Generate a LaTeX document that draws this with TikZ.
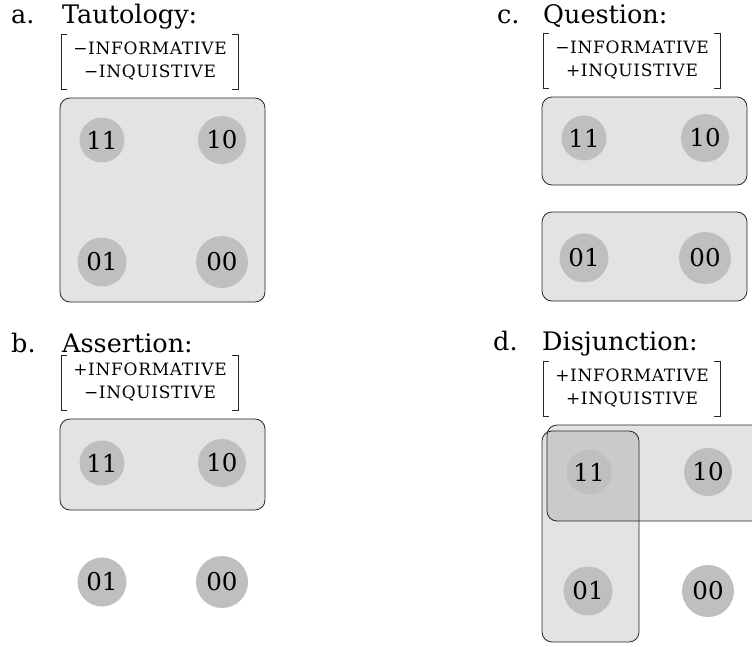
\documentclass[tikz,border=0pt]{standalone}
\usepackage{fontspec}
\setmainfont{DejaVu Serif}
\usetikzlibrary{fit}
\begin{document}
\begin{tikzpicture}[x=1pt,y=-1pt,
  heading/.style={anchor=base west,inner sep=0pt,font=\fontsize{25.5}{30}\selectfont},
  feature/.style={inner sep=0pt,font=\fontsize{17}{20}\selectfont\addfontfeature{LetterSpace=4}},
  bracket/.style={line width=0.9pt,black!85},
  cell/.style={draw=black!85,line width=0.8pt,fill=black,fill opacity=0.11,draw opacity=1,
               rounded corners=10pt,inner sep=0pt},
  world/.style={circle,fill=black!25,inner sep=0pt,text=black,
                font=\fontsize{24.5}{28}\selectfont},
  w11/.style={world,minimum size=45pt},
  w10/.style={world,minimum size=48pt},
  w01/.style={world,minimum size=49pt},
  w00/.style={world,minimum size=52pt}]
\useasboundingbox (0,0) rectangle (752,646);
\clip (0,0) rectangle (752,646);

% feature matrix: two rows between square brackets
\newcommand{\featmat}[4]{%
  \node[feature] at (#1+89,#2+14) {#3INFORMATIVE};
  \node[feature] at (#1+89,#2+39) {#4INQUISTIVE\vphantom{Q}};
  \draw[bracket] (#1+6,#2) -- (#1,#2) -- (#1,#2+55) -- (#1+6,#2+55);
  \draw[bracket] (#1+171,#2) -- (#1+177,#2) -- (#1+177,#2+55) -- (#1+171,#2+55);}

% a. Tautology
\node[heading] (la) at (11,23) {a.};
\node[heading] (ta) at (62,23) {Tautology:};
\featmat{61}{34}{−}{−}
\node[cell,fit={(60,98) (265,302)}] (ba) {};
\node[w11] (a11) at (102,140) {11};
\node[w10] (a10) at (222,140) {10};
\node[w01] (a01) at (102,262) {01};
\node[w00] (a00) at (222,262) {00};

% b. Assertion
\node[heading] (lb) at (11,352) {b.};
\node[heading] (tb) at (62,352) {Assertion:};
\featmat{61}{355}{+}{−}
\node[cell,fit={(60,419) (265,510)}] (bb) {};
\node[w11] (b11) at (102,463) {11};
\node[w10] (b10) at (222,463) {10};
\node[w01] (b01) at (102,582) {01};
\node[w00] (b00) at (222,582) {00};

% c. Question
\node[heading] (lc) at (497,23) {c.};
\node[heading] (tc) at (543,23) {Question:};
\featmat{543}{33}{−}{+}
\node[cell,fit={(542,97) (747,185)}] (bc1) {};
\node[cell,fit={(542,212) (747,301)}] (bc2) {};
\node[w11] (c11) at (584,138) {11};
\node[w10] (c10) at (705,138) {10};
\node[w01] (c01) at (584,258) {01};
\node[w00] (c00) at (705,258) {00};

% d. Disjunction
\node[heading] (ld) at (493,350) {d.};
\node[heading] (td) at (542,350) {Disjunction:};
\featmat{543}{361}{+}{+}
\node[cell,fit={(547,425) (800,521)}] (bd1) {};
\node[cell,fit={(542,431) (639,642)}] (bd2) {};
\node[w11] (d11) at (589,472) {11};
\node[w10] (d10) at (708,472) {10};
\node[w01] (d01) at (588,591) {01};
\node[w00] (d00) at (708,591) {00};
\end{tikzpicture}
\end{document}
